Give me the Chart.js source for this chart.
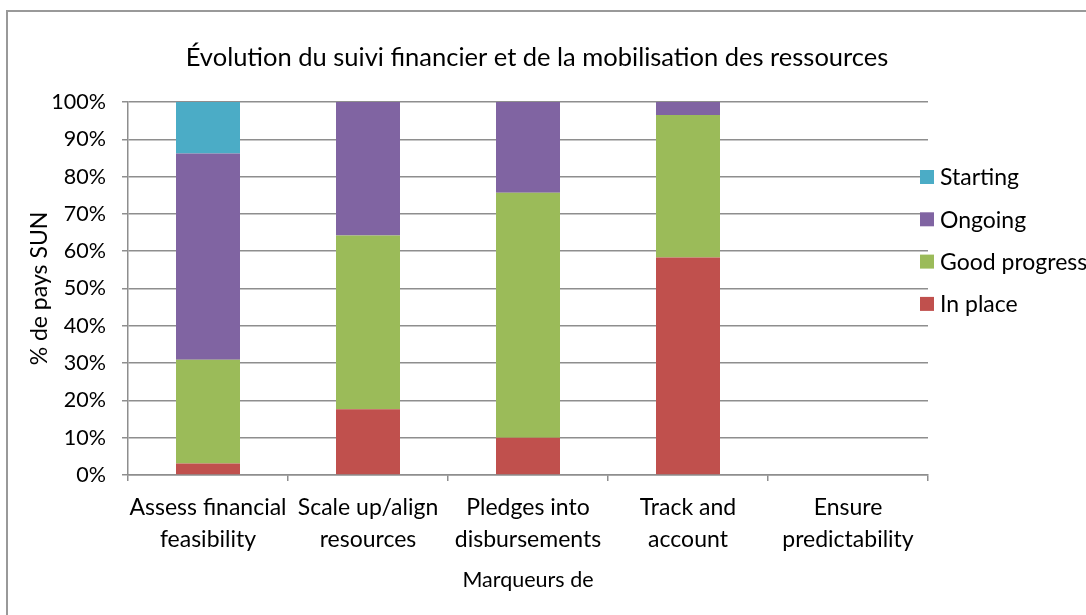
<!DOCTYPE html>
<html>
<head>
<meta charset="utf-8">
<script src="https://cdn.jsdelivr.net/npm/chart.js@4/dist/chart.umd.min.js"></script>
<style>
    html, body { margin: 0; padding: 0; background: #fff; overflow: hidden; }
    #wrap { position: relative; width: 1086px; height: 615px; }
    #frame {
        position: absolute; left: 6px; top: 10px; width: 1200px; height: 700px;
        border-left: 2px solid #999; border-top: 2px solid #999;
    }
    canvas { position: absolute; left: 0; top: 0; }
</style>
</head>
<body>
<div id="wrap">
    <div id="frame"></div>
    <canvas id="chart" width="1086" height="615"></canvas>
</div>
<script>
// Categories and stacked shares (% of SUN countries)
const categories = [
    ['Assess financial', 'feasibility'],
    ['Scale up/align', 'resources'],
    ['Pledges into', 'disbursements'],
    ['Track and', 'account'],
    ['Ensure', 'predictability']
];
const inPlace      = [3.1, 17.6, 10.0, 58.3, 0];
const goodProgress = [27.8, 46.6, 65.7, 38.2, 0];
const ongoing      = [55.3, 35.8, 24.3, 3.5, 0];
const starting     = [13.8, 0, 0, 0, 0];

const yTicks = [0, 10, 20, 30, 40, 50, 60, 70, 80, 90, 100];
const chartTitle = 'Évolution du suivi financier et de la mobilisation des ressources';

const FONT = 'Lato, "Liberation Sans", sans-serif';
const GRID = '#8e8e8e';

// Title centred on the whole canvas + legend on the right (reverse stack order)
const extras = {
    id: 'extras',
    afterDraw(chart) {
        const ctx = chart.ctx;
        ctx.save();
        ctx.fillStyle = '#000';
        ctx.textAlign = 'center';
        ctx.textBaseline = 'middle';
        ctx.font = '25.5px ' + FONT;
        ctx.fillText(chartTitle, 537, 58);

        ctx.textAlign = 'left';
        ctx.font = '23px ' + FONT;
        const sets = chart.data.datasets.slice().reverse();
        sets.forEach((ds, i) => {
            const y = 177 + i * 42.3;
            ctx.fillStyle = ds.backgroundColor;
            ctx.fillRect(920, y - 7, 14, 14);
            ctx.fillStyle = '#000';
            ctx.fillText(ds.label, 940, y + 1);
        });
        ctx.restore();
    }
};

const ctx = document.getElementById('chart').getContext('2d');
new Chart(ctx, {
    type: 'bar',
    data: {
        labels: categories,
        datasets: [
            { label: 'In place', data: inPlace, backgroundColor: '#C0504D' },
            { label: 'Good progress', data: goodProgress, backgroundColor: '#9BBB59' },
            { label: 'Ongoing', data: ongoing, backgroundColor: '#8064A2' },
            { label: 'Starting', data: starting, backgroundColor: '#4BACC6' }
        ]
    },
    options: {
        responsive: false,
        animation: false,
        layout: { padding: { left: 8, right: 158, top: 102, bottom: 8 } },
        datasets: { bar: { barPercentage: 0.4, categoryPercentage: 1, borderWidth: 0 } },
        plugins: {
            legend: { display: false },
            tooltip: { enabled: false },
            title: { display: false }
        },
        scales: {
            x: {
                stacked: true,
                afterFit: (s) => { s.height = 132; },
                grid: { display: true, drawOnChartArea: false, offset: true, tickLength: 6, color: GRID, lineWidth: 1.5 },
                border: { color: GRID, width: 1.5 },
                ticks: { color: '#000', padding: 11, maxRotation: 0, autoSkip: false,
                         font: { family: FONT, size: 23, lineHeight: 1.39 } },
                title: { display: true, text: 'Marqueurs de', color: '#000',
                         font: { family: FONT, size: 21.5, lineHeight: 1.2 }, padding: { bottom: 14 } }
            },
            y: {
                stacked: true,
                min: 0, max: 100,
                afterFit: (s) => { s.width = 120; },
                afterBuildTicks: (s) => { s.ticks = yTicks.map(v => ({ value: v })); },
                grid: { color: GRID, lineWidth: 1.5, tickLength: 6 },
                border: { color: GRID, width: 1.5 },
                ticks: { color: '#000', padding: 16, callback: (v) => v + '%',
                         font: { family: FONT, size: 21.5 } },
                title: { display: true, text: '% de pays SUN', color: '#000',
                         font: { family: FONT, size: 23, lineHeight: 1.2 }, padding: { top: 18 } }
            }
        }
    },
    plugins: [extras]
});
</script>
</body>
</html>
